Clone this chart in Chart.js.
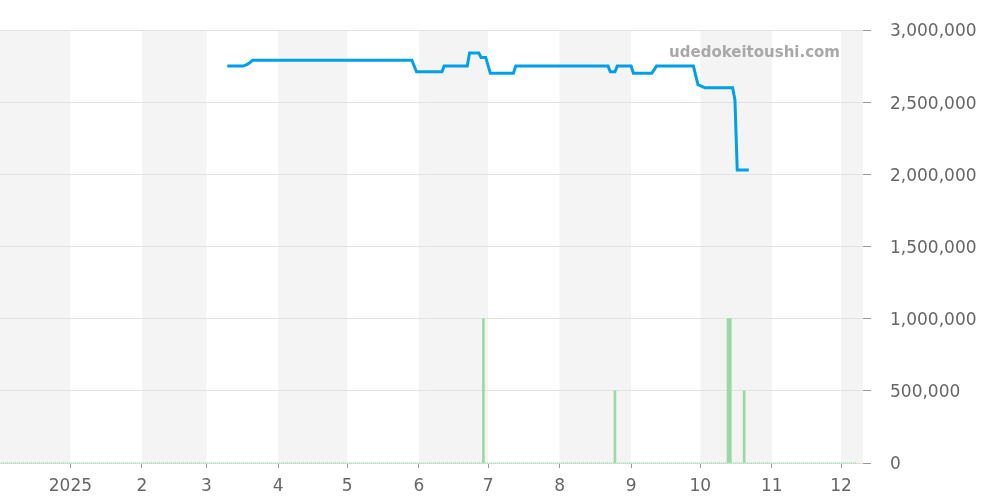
<!DOCTYPE html>
<html>
<head>
<meta charset="utf-8">
<script src="https://cdn.jsdelivr.net/npm/chart.js@4.4.1/dist/chart.umd.min.js"></script>
<style>
  html, body { margin: 0; padding: 0; background: #fff; }
  #wrap { width: 1000px; height: 500px; }
</style>
</head>
<body>
<div id="wrap"><canvas id="priceChart" width="1000" height="500"></canvas></div>
<script>
// month boundaries (first one is the left edge of the chart)
const monthStarts = ['2024-12-01', '2025-01-01', '2025-02-01', '2025-03-01', '2025-04-01', '2025-05-01',
    '2025-06-01', '2025-07-01', '2025-08-01', '2025-09-01', '2025-10-01', '2025-11-01', '2025-12-01'];
const tickLabels = ['2025', '2', '3', '4', '5', '6', '7', '8', '9', '10', '11', '12'];
const yTicks = [0, 500000, 1000000, 1500000, 2000000, 2500000, 3000000];

// price line
const priceDates = ['2025-03-10', '2025-03-17', '2025-03-19', '2025-03-21', '2025-05-29', '2025-05-31',
    '2025-06-11', '2025-06-12', '2025-06-22', '2025-06-23', '2025-06-27', '2025-06-28', '2025-06-30',
    '2025-07-02', '2025-07-12', '2025-07-13', '2025-08-22', '2025-08-23', '2025-08-25', '2025-08-26',
    '2025-09-01', '2025-09-02', '2025-09-10', '2025-09-12', '2025-09-28', '2025-09-30', '2025-10-01',
    '2025-10-03', '2025-10-15', '2025-10-16', '2025-10-17', '2025-10-22'];
const priceValues = [2750000, 2750000, 2765000, 2790000, 2790000, 2710000,
    2710000, 2750000, 2750000, 2840000, 2840000, 2810000, 2810000,
    2700000, 2700000, 2750000, 2750000, 2710000, 2710000, 2750000,
    2750000, 2700000, 2700000, 2750000, 2750000, 2620000, 2615000,
    2600000, 2600000, 2515000, 2030000, 2030000];

// volume bars
const volumeDates = ['2025-06-29', '2025-08-25', '2025-10-13', '2025-10-14', '2025-10-20'];
const volumeValues = [1000000, 500000, 1000000, 1000000, 500000];

// zero-volume baseline
const baselineDates = ['2024-12-01', '2025-12-08'];
const baselineValues = [0, 0];

function dayOf(s) {
    const p = s.split('-').map(Number);
    return (Date.UTC(p[0], p[1] - 1, p[2]) - Date.UTC(2024, 11, 1)) / 86400000;
}

const monthDays = monthStarts.map(dayOf);
const tickDays = monthDays.slice(1);

function pairs(dates, values) {
    return dates.map((d, i) => ({ x: dayOf(d), y: values[i] }));
}

const monthBands = {
    id: 'monthBands',
    beforeDraw(chart) {
        const ctx = chart.ctx;
        const area = chart.chartArea;
        const xs = chart.scales.x;
        ctx.save();
        ctx.fillStyle = '#f4f4f4';
        for (let i = 0; i < monthDays.length; i += 2) {
            let x0 = Math.max(xs.getPixelForValue(monthDays[i]), area.left);
            let x1 = i + 1 < monthDays.length ? xs.getPixelForValue(monthDays[i + 1]) : area.right;
            x1 = Math.min(x1, area.right);
            ctx.fillRect(x0, area.top, x1 - x0, area.bottom - area.top);
        }
        ctx.restore();
    }
};

const watermark = {
    id: 'watermark',
    afterDatasetsDraw(chart) {
        const ctx = chart.ctx;
        ctx.save();
        ctx.font = 'bold 15px "DejaVu Sans"';
        ctx.fillStyle = '#a8a8a8';
        ctx.textAlign = 'right';
        ctx.textBaseline = 'middle';
        ctx.fillText('udedokeitoushi.com', chart.chartArea.right - 23, 53);
        ctx.restore();
    }
};

Chart.defaults.font.family = '"DejaVu Sans", sans-serif';

new Chart(document.getElementById('priceChart'), {
    data: {
        datasets: [{
            type: 'line',
            data: pairs(priceDates, priceValues),
            borderColor: '#00a0e9',
            borderWidth: 3,
            pointRadius: 0,
            tension: 0,
            fill: false
        }, {
            type: 'bar',
            data: pairs(volumeDates, volumeValues),
            backgroundColor: '#9bd8a6',
            barThickness: 2
        }, {
            type: 'line',
            data: pairs(baselineDates, baselineValues),
            borderColor: '#a8dcb2',
            borderWidth: 1.5,
            borderDash: [1, 1],
            pointRadius: 0,
            clip: false
        }]
    },
    options: {
        responsive: false,
        devicePixelRatio: 1,
        animation: false,
        layout: { padding: { top: 30, left: 0, right: 0, bottom: 0 } },
        plugins: {
            legend: { display: false },
            tooltip: { enabled: false }
        },
        scales: {
            x: {
                type: 'linear',
                min: 0.5,
                max: 374.5,
                offset: false,
                afterBuildTicks(scale) {
                    scale.ticks = tickDays.map(v => ({ value: v }));
                },
                afterFit(scale) { scale.height = 37; },
                grid: {
                    offset: false,
                    drawOnChartArea: false,
                    drawTicks: true,
                    tickLength: 5,
                    tickColor: '#999'
                },
                border: { display: false },
                ticks: {
                    autoSkip: false,
                    maxRotation: 0,
                    padding: 8,
                    color: '#666',
                    font: { size: 17 },
                    callback(value) {
                        const i = tickDays.indexOf(value);
                        return i >= 0 ? tickLabels[i] : '';
                    }
                }
            },
            y: {
                position: 'right',
                min: 0,
                max: 3000000,
                afterBuildTicks(scale) {
                    scale.ticks = yTicks.map(v => ({ value: v }));
                },
                afterFit(scale) { scale.width = 137; },
                grid: {
                    color: '#e2e2e2',
                    drawTicks: true,
                    tickLength: 8,
                    tickColor: '#999'
                },
                border: { display: false },
                ticks: {
                    padding: 19,
                    labelOffset: 2,
                    color: '#666',
                    font: { size: 17 },
                    callback(value) {
                        return value.toLocaleString('en-US');
                    }
                }
            }
        }
    },
    plugins: [monthBands, watermark]
});
</script>
</body>
</html>
